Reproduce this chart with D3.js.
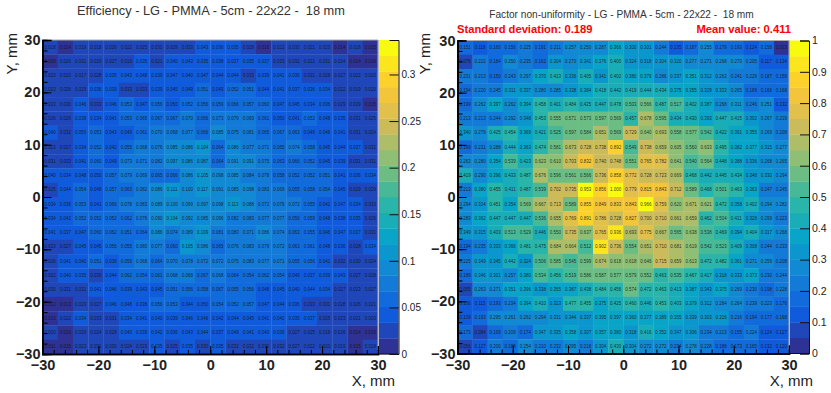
<!DOCTYPE html>
<html>
<head>
<meta charset="utf-8">
<script src="https://cdn.jsdelivr.net/npm/d3@7"></script>
<style>
	html,body{margin:0;padding:0;background:#fff;}
	svg{display:block;}
	text{font-family:'Liberation Sans',Arial,sans-serif;white-space:pre;}
</style>
</head>
<body>
<div id="chart"></div>
<script>

////////////////////////////////////////
// values, rows run top (y=30) to bottom (y=-30)
////////////////////////////////////////

var efficiency_rows = [
	[.018,.014,.019,.018,.026,.022,.025,.030,.029,.033,.043,.036,.035,.028,.016,.022,.030,.021,.023,.014,.018,.015],
	[.009,.026,.031,.029,.027,.019,.035,.021,.040,.043,.035,.038,.037,.035,.037,.033,.032,.021,.031,.024,.014,.016],
	[.023,.020,.017,.028,.035,.043,.048,.039,.047,.040,.047,.044,.044,.033,.039,.041,.036,.031,.028,.027,.022,.020],
	[.023,.026,.029,.036,.039,.033,.033,.039,.045,.049,.051,.049,.052,.051,.044,.041,.037,.036,.034,.022,.019,.020],
	[.023,.030,.046,.033,.046,.053,.047,.056,.050,.052,.056,.059,.066,.057,.060,.047,.045,.034,.036,.029,.029,.015],
	[.026,.026,.038,.034,.041,.053,.065,.067,.067,.070,.066,.073,.079,.069,.061,.050,.041,.052,.048,.035,.031,.025],
	[.040,.032,.050,.053,.043,.049,.061,.070,.068,.077,.066,.085,.075,.081,.065,.067,.063,.049,.046,.041,.031,.024],
	[.023,.027,.034,.052,.042,.055,.068,.076,.085,.086,.104,.064,.086,.077,.071,.065,.074,.058,.045,.044,.037,.032],
	[.031,.033,.041,.060,.049,.073,.071,.082,.097,.086,.087,.064,.091,.091,.075,.063,.066,.052,.045,.039,.031,.031],
	[.040,.034,.048,.050,.057,.079,.069,.065,.066,.086,.105,.098,.085,.084,.078,.058,.052,.052,.051,.041,.036,.034],
	[.025,.044,.054,.048,.057,.063,.082,.086,.111,.100,.117,.091,.085,.098,.083,.069,.055,.058,.054,.045,.029,.029],
	[.034,.036,.053,.041,.066,.078,.083,.089,.100,.099,.097,.098,.113,.088,.072,.076,.072,.055,.042,.047,.034,.033],
	[.034,.042,.052,.052,.052,.062,.076,.090,.104,.092,.085,.096,.082,.083,.077,.077,.056,.059,.048,.038,.035,.026],
	[.041,.037,.047,.060,.062,.051,.064,.086,.074,.089,.109,.081,.080,.071,.086,.074,.063,.055,.046,.047,.037,.031],
	[.023,.027,.045,.045,.056,.055,.080,.077,.060,.105,.086,.065,.076,.083,.079,.072,.063,.061,.048,.036,.028,.034],
	[.026,.041,.040,.051,.038,.059,.068,.064,.070,.078,.072,.072,.075,.083,.077,.071,.055,.056,.042,.032,.030,.024],
	[.022,.040,.035,.030,.044,.062,.054,.061,.068,.068,.067,.068,.064,.054,.062,.054,.049,.037,.039,.043,.027,.028],
	[.030,.031,.032,.041,.046,.039,.043,.045,.051,.056,.058,.067,.055,.056,.048,.045,.040,.044,.034,.027,.023,.027],
	[.012,.013,.023,.027,.046,.048,.038,.056,.053,.044,.050,.054,.052,.057,.047,.044,.036,.033,.031,.028,.026,.021],
	[.013,.022,.034,.033,.031,.034,.041,.040,.039,.046,.046,.042,.044,.045,.041,.040,.035,.037,.025,.023,.021,.020],
	[.020,.010,.029,.024,.029,.040,.039,.042,.036,.043,.044,.037,.049,.041,.040,.036,.027,.025,.018,.026,.014,.015],
	[.011,.015,.023,.031,.030,.024,.023,.035,.025,.035,.030,.035,.032,.032,.032,.032,.027,.022,.020,.019,.015,.018]
];

var factor_rows = [
	[.151,.118,.160,.156,.225,.191,.211,.257,.250,.287,.366,.300,.301,.244,.135,.187,.255,.179,.193,.124,.158,.033],
	[.076,.222,.184,.250,.235,.162,.304,.270,.341,.376,.400,.324,.318,.304,.320,.277,.271,.268,.270,.205,.117,.134],
	[.201,.213,.150,.243,.297,.370,.413,.336,.405,.341,.402,.380,.379,.286,.337,.351,.312,.263,.241,.229,.187,.159],
	[.194,.220,.245,.311,.337,.280,.285,.338,.384,.418,.442,.419,.444,.434,.375,.355,.329,.333,.265,.189,.166,.168],
	[.199,.262,.397,.262,.394,.458,.401,.484,.425,.447,.478,.503,.566,.487,.517,.402,.387,.268,.311,.246,.251,.132],
	[.213,.213,.244,.292,.348,.453,.555,.571,.573,.597,.569,.457,.678,.595,.434,.430,.393,.447,.415,.302,.267,.219],
	[.340,.279,.425,.454,.369,.421,.525,.597,.584,.651,.569,.729,.640,.693,.558,.577,.542,.422,.391,.355,.269,.208],
	[.199,.231,.288,.444,.363,.474,.581,.673,.728,.738,.892,.549,.738,.659,.605,.560,.633,.495,.382,.377,.315,.277],
	[.263,.280,.354,.539,.423,.623,.610,.703,.832,.740,.748,.551,.765,.782,.641,.540,.564,.448,.388,.336,.268,.265],
	[.419,.290,.396,.433,.487,.676,.596,.561,.566,.736,.858,.772,.728,.723,.669,.468,.442,.445,.434,.348,.330,.294],
	[.213,.380,.455,.411,.487,.539,.702,.735,.953,.856,1.000,.779,.815,.843,.712,.589,.468,.501,.463,.363,.247,.245],
	[.294,.324,.451,.354,.569,.667,.713,.589,.855,.849,.833,.843,.966,.759,.620,.671,.621,.472,.358,.402,.294,.282],
	[.289,.362,.447,.447,.447,.536,.655,.769,.891,.786,.728,.827,.700,.710,.661,.659,.462,.504,.411,.328,.299,.223],
	[.349,.315,.403,.513,.529,.446,.550,.735,.637,.765,.936,.693,.775,.667,.565,.638,.538,.469,.394,.404,.317,.268],
	[.194,.235,.333,.366,.481,.475,.684,.664,.512,.902,.736,.554,.651,.710,.681,.619,.542,.523,.409,.308,.244,.233],
	[.225,.349,.345,.442,.324,.506,.585,.545,.599,.674,.618,.618,.646,.715,.659,.613,.472,.482,.361,.271,.259,.208],
	[.189,.346,.301,.257,.380,.534,.456,.519,.586,.587,.577,.579,.552,.463,.535,.467,.417,.318,.333,.373,.230,.244],
	[.055,.263,.271,.351,.396,.338,.355,.387,.438,.484,.456,.574,.472,.463,.413,.387,.343,.375,.269,.230,.198,.228],
	[.106,.115,.193,.234,.394,.410,.323,.477,.455,.375,.425,.460,.446,.453,.403,.379,.312,.284,.264,.239,.223,.176],
	[.109,.193,.295,.261,.262,.294,.331,.344,.337,.395,.397,.360,.377,.389,.355,.339,.303,.316,.216,.194,.177,.168],
	[.173,.084,.169,.209,.174,.347,.335,.358,.307,.357,.380,.318,.416,.352,.347,.306,.234,.213,.155,.224,.124,.127],
	[.056,.127,.200,.188,.254,.210,.232,.295,.218,.304,.430,.304,.272,.272,.234,.278,.228,.188,.173,.165,.132,.120]
];

var mm_ticks = [-30,-20,-10,0,10,20,30];
var mm_minor = d3.range(-30,31,2);
var efficiency_z_ticks = [0,.05,.1,.15,.2,.25,.3];
var factor_z_ticks = [0,.1,.2,.3,.4,.5,.6,.7,.8,.9,1];

// ROOT's bird palette
var bird_stops = [
	[53,42,135],[15,92,221],[20,129,214],[6,164,202],[46,183,164],
	[135,191,119],[209,187,89],[254,200,50],[249,251,14]
];
var n_contours = 20;

////////////////////////////////////////
////////////////////////////////////////
////////////////////////////////////////

var w = 831, h = 393;

var vis = d3.select('#chart')
	.append('svg')
	.attr('width',w)
	.attr('height',h);

var bird = d3.scaleLinear()
	.domain(d3.range(bird_stops.length).map(function(i){
		return i/(bird_stops.length-1);
	}))
	.range(bird_stops.map(function(c){
		return d3.rgb(c[0],c[1],c[2]);
	}));

var contour_colors = d3.range(n_contours).map(function(i){
	return bird((i+.4)/(n_contours-.6));
});

function drawPanel(p){
	var g = vis.append('g').attr('class','panel');

	var x = d3.scaleLinear().domain([-30,30]).range([p.left,p.right]);
	var y = d3.scaleLinear().domain([-30,30]).range([p.bottom,p.top]);
	var z = d3.scaleLinear().domain([0,p.zMax]).range([p.bottom,p.top]);
	var color = d3.scaleQuantize().domain([0,p.zMax]).range(contour_colors);

	var bin = 60/22;

	var cells = [];
	p.rows.forEach(function(row,r){
		row.forEach(function(v,c){
			cells.push({col:c,row:r,v:v});
		});
	});

	g.selectAll('rect.cell')
		.data(cells)
		.enter()
			.append('rect')
			.attr('class','cell')
			.attr('x',function(d){return x(-30+d.col*bin);})
			.attr('y',function(d){return y(30-d.row*bin);})
			.attr('width',x(bin)-x(0)+.3)
			.attr('height',y(0)-y(bin)+.3)
			.attr('fill',function(d){return color(d.v);});

	g.selectAll('text.cell_text')
		.data(cells)
		.enter()
			.append('text')
			.attr('class','cell_text')
			.attr('x',function(d){return x(-30+(d.col+.5)*bin);})
			.attr('y',function(d){return y(30-(d.row+.5)*bin)+1.5;})
			.attr('text-anchor','middle')
			.attr('font-size',4.5)
			.attr('fill','#111')
			.attr('fill-opacity',.85)
			.text(function(d){return d3.format('.3f')(d.v);});

	// frame top and right
	g.append('path')
		.attr('d','M'+p.left+','+p.top+'H'+p.right+'V'+p.bottom)
		.attr('fill','none')
		.attr('stroke','#aaa')
		.attr('stroke-width',1);

	// axes, ticks point into the plot like ROOT does
	var xMinor = g.append('g')
		.attr('transform','translate(0,'+p.bottom+')')
		.call(d3.axisBottom(x).tickValues(mm_minor).tickSize(-4).tickFormat(''));
	var xMajor = g.append('g')
		.attr('transform','translate(0,'+p.bottom+')')
		.call(d3.axisBottom(x).tickValues(mm_ticks).tickSize(-8).tickPadding(16));
	var yMinor = g.append('g')
		.attr('transform','translate('+p.left+',0)')
		.call(d3.axisLeft(y).tickValues(mm_minor).tickSize(-5).tickFormat(''));
	var yMajor = g.append('g')
		.attr('transform','translate('+p.left+',0)')
		.call(d3.axisLeft(y).tickValues(mm_ticks).tickSize(-9).tickPadding(2));

	[xMinor,xMajor,yMinor,yMajor].forEach(function(a){
		a.select('.domain').attr('stroke','#000').attr('stroke-width',1.6);
		a.selectAll('.tick line').attr('stroke','#000').attr('stroke-width',1);
	});
	[xMajor,yMajor].forEach(function(a){
		a.selectAll('.tick text')
			.attr('font-family',null)
			.attr('font-size',14.5)
			.attr('font-weight','bold')
			.attr('fill','#222');
	});
	xMajor.selectAll('.tick text').attr('dy',0).attr('y',16);

	// colour bar
	var bands = d3.range(n_contours);
	g.selectAll('rect.band')
		.data(bands)
		.enter()
			.append('rect')
			.attr('class','band')
			.attr('x',p.barLeft)
			.attr('y',function(d){return z((d+1)*p.zMax/n_contours);})
			.attr('width',p.barRight-p.barLeft)
			.attr('height',function(d){
				return z(d*p.zMax/n_contours)-z((d+1)*p.zMax/n_contours)+.3;
			})
			.attr('fill',function(d){return contour_colors[d];});

	var zAxis = g.append('g')
		.attr('transform','translate('+p.barRight+',0)')
		.call(d3.axisRight(z).tickValues(p.zTicks).tickSize(-9).tickPadding(3).tickFormat(function(d){return String(d);}));
	zAxis.select('.domain').attr('stroke','#111').attr('stroke-width',1);
	zAxis.selectAll('.tick line').attr('stroke','#111').attr('stroke-width',1);
	zAxis.selectAll('.tick text')
		.attr('font-family',null)
		.attr('font-size',p.barFont)
		.attr('fill','#222');

	g.append('line')
		.attr('x1',p.barLeft)
		.attr('x2',p.barRight)
		.attr('y1',p.bottom)
		.attr('y2',p.bottom)
		.attr('stroke','#111');

	// labels
	g.append('text')
		.attr('x',p.xTitleX)
		.attr('y',386)
		.attr('text-anchor','end')
		.attr('font-size',15)
		.attr('fill','#222')
		.text('X, mm');

	g.append('text')
		.attr('transform','translate('+p.yTitleX+',33) rotate(-90)')
		.attr('text-anchor','end')
		.attr('font-size',15)
		.attr('fill','#222')
		.text('Y, mm');

	g.append('text')
		.attr('x',p.titleX)
		.attr('y',p.titleY)
		.attr('text-anchor','middle')
		.attr('font-size',p.titleSize)
		.attr('fill','#333')
		.text(p.title);
}

////////////////////////////////////////
////////////////////////////////////////
////////////////////////////////////////

drawPanel({
	rows:efficiency_rows,
	left:42.5,right:378,top:40,bottom:354,
	barLeft:379,barRight:398.5,
	zMax:.337,zTicks:efficiency_z_ticks,barFont:10,
	xTitleX:395,yTitleX:17,
	title:'Efficiency - LG - PMMA - 5cm - 22x22 -  18 mm',titleX:211,titleY:15,titleSize:12.8
});

drawPanel({
	rows:factor_rows,
	left:457.5,right:789,top:40.5,bottom:353.5,
	barLeft:790,barRight:809,
	zMax:1,zTicks:factor_z_ticks,barFont:10.5,
	xTitleX:813,yTitleX:430,
	title:'Factor non-uniformity - LG - PMMA - 5cm - 22x22 -  18 mm',titleX:621.5,titleY:18,titleSize:10.15
});

vis.append('text')
	.attr('x',457)
	.attr('y',33)
	.attr('font-size',11.2)
	.attr('font-weight','bold')
	.attr('fill','#f00')
	.text('Standard deviation: 0.189');

vis.append('text')
	.attr('x',791)
	.attr('y',33)
	.attr('text-anchor','end')
	.attr('font-size',11.2)
	.attr('font-weight','bold')
	.attr('fill','#f00')
	.text('Mean value: 0.411');

</script>
</body>
</html>
